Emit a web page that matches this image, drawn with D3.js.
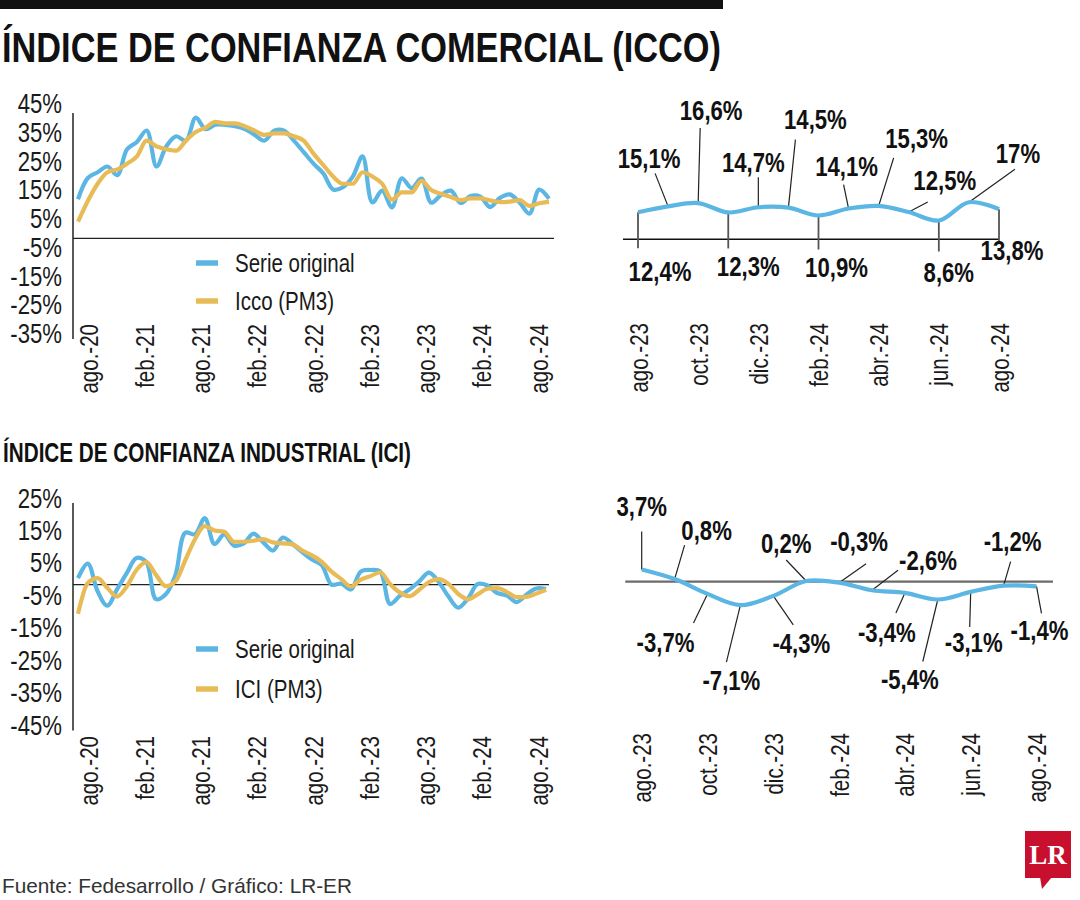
<!DOCTYPE html>
<html><head><meta charset="utf-8">
<script src="https://cdn.jsdelivr.net/npm/d3@7"></script>
<style>
html,body{margin:0;padding:0;background:#fff;}
svg{display:block;}
</style></head><body>
<svg id="chart" width="1080" height="900"></svg>
<script>
// ---------------- DATA ----------------
const longTickLabels = ["ago.-20","feb.-21","ago.-21","feb.-22","ago.-22","feb.-23","ago.-23","feb.-24","ago.-24"];
const recentTickLabels = ["ago.-23","oct.-23","dic.-23","feb.-24","abr.-24","jun.-24","ago.-24"];
const yTicksIcco = [45,35,25,15,5,-5,-15,-25,-35];
const yTicksIci = [25,15,5,-5,-15,-25,-35,-45];

// ICCO monthly, ago-20 .. ago-24 (%)
const iccoOriginal = [13.6,21,23,25,22,31,33.5,37.5,25,32,35.5,34,42,38,39.5,39.5,39,38,36,34,37.5,37.5,34,30,26,22.6,17,17.8,21.5,28.5,12.5,16.6,10.8,20.9,17.5,20.8,
  12.4,15.1,16.6,12.3,14.7,14.5,10.9,14.1,15.3,12.5,8.6,17,13.8];
const iccoPM3 = [5.8,13,19,23,24,26,28.5,34,32,31,30.5,34,37,38.5,40.5,40,40,39,37.5,36,36.5,36.5,35.5,34,29.5,25.5,21.5,19,19,23,21.5,19,13.5,16,16,20,
  16.8,15.5,14.4,13.3,13.9,13.9,13.2,12.6,12.8,13.3,11.3,12.2,12.8];
// ICI monthly, ago-20 .. ago-24 (%)
const iciOriginal = [2,6.5,-2,-6.5,-1.5,3.5,8.2,7,-4.5,-3,3,16,15.5,20.5,12.5,15.5,12,12.7,15.7,13,10.5,14.5,12.5,10,7.7,6,0,0.3,-1.5,4,4.5,4,-6,-3.5,-1.5,1,
  3.7,0.8,-3.7,-7.1,-4.3,0.2,-0.3,-2.6,-3.4,-5.4,-3.1,-1.2,-1.4];
const iciPM3 = [-9,0.5,2,-1,-3.7,-0.6,4.5,6.9,3,-0.5,1,7.5,14,18,16.7,16.3,13.2,13.2,13.5,14,13,12.7,12.4,10.5,9,7,4,1.7,-0.6,1.5,2.6,3.8,0.2,-2.4,-3.6,-1.6,
  0.8,1.7,0.2,-2.9,-4.5,-3,-1.3,-1.1,-2.3,-3.9,-3.8,-2.8,-1.6];
// last 13 months (ago-23 .. ago-24)
const iccoRecent = [12.4,15.1,16.6,12.3,14.7,14.5,10.9,14.1,15.3,12.5,8.6,17,13.8];
const iciRecent = [3.7,0.8,-3.7,-7.1,-4.3,0.2,-0.3,-2.6,-3.4,-5.4,-3.1,-1.2,-1.4];

// ---------------- LAYOUT (annotation offsets, px) ----------------
const annotIcco = [
  {lx:22,ly:59,ex:0,ey:36},{lx:-19,ly:-48,ex:-13,ey:-33},{lx:13,ly:-93,ex:2,ey:-75},
  {lx:20,ly:54,ex:0,ey:36},{lx:-5,ly:-45,ex:0,ey:-30},{lx:27,ly:-88,ex:7,ey:-68},
  {lx:18,ly:52,ex:0,ey:34},{lx:-2,ly:-42,ex:-5,ey:-24},{lx:38,ly:-68,ex:15,ey:-48},
  {lx:36,ly:-32,ex:19,ey:-10},{lx:10,ly:52,ex:0,ey:31},{lx:49,ly:-49,ex:46,ey:-33},
  {lx:13,ly:41,ex:0,ey:32}];
const annotIci = [
  {lx:0,ly:-63,ex:0,ey:-38},{lx:32,ly:-49,ex:10,ey:-34},{lx:-42,ly:48,ex:-14,ey:29},
  {lx:-9,ly:75,ex:-14,ey:57},{lx:28,ly:47,ex:20,ey:29},{lx:-20,ly:-38,ex:-20,ey:-21},
  {lx:20,ly:-41,ex:27,ey:-19},{lx:56,ly:-30,ex:26,ey:-20},{lx:-18,ly:39,ex:-9,ey:20},
  {lx:-28,ly:80,ex:-15,ey:62},{lx:3,ly:50,ex:-1,ey:35},{lx:9,ly:-44,ex:7,ey:-24},
  {lx:3,ly:44,ex:5,ey:27}];

const INK = "#1a1a1a", BLUE = "#5cb6e3", GOLD = "#e8bb57";
const FONT = "'Liberation Sans Narrow','Arial Narrow','Liberation Sans',sans-serif";
const svg = d3.select("#chart").attr("font-family", FONT);

// header
svg.append("rect").attr("x",0).attr("y",0).attr("width",723).attr("height",9).attr("fill","#111");
function title(txt, x, y, size, len){
  svg.append("text").attr("x",x).attr("y",y).attr("font-size",size).attr("font-weight","bold")
    .attr("fill","#111").attr("textLength",len).attr("lengthAdjust","spacingAndGlyphs")
    .attr("class","fixed").text(txt);
}
title("ÍNDICE DE CONFIANZA COMERCIAL (ICCO)", 2, 62, 42, 719);
title("ÍNDICE DE CONFIANZA INDUSTRIAL (ICI)", 3, 462, 27, 408);

const fmt = v => (Number.isInteger(v) ? String(v) : v.toFixed(1)).replace(".", ",") + "%";

// -------- long panels --------
function longPanel(o){
  const g = svg.append("g");
  const x = d3.scaleLinear().domain([0, o.original.length-1]).range(o.xRange);
  const xl = d3.scaleLinear().domain([0, o.original.length-1]).range([88, 538]);
  const y = d3.scaleLinear().domain(o.yDomain).range(o.yRange);

  const ya = g.append("g").attr("transform", `translate(73,-5)`)
    .call(d3.axisLeft(y).tickValues(o.yTicks).tickFormat(d => d + "%").tickSize(0).tickPadding(11));
  ya.select(".domain").remove();
  ya.selectAll("text").attr("font-size", 27).attr("fill", INK).attr("font-family", FONT);
  g.append("line").attr("x1",73).attr("x2",73).attr("y1",o.axisTop).attr("y2",y(o.yDomain[0]))
    .attr("stroke","#222").attr("stroke-width",1.5);
  g.append("line").attr("x1",73).attr("x2",o.zeroEnd).attr("y1",y(0)).attr("y2",y(0))
    .attr("stroke","#222").attr("stroke-width",1.3);

  const xa = g.append("g").attr("transform", `translate(0,${o.labelTop})`)
    .call(d3.axisBottom(xl).tickValues(o.tickLabels.map((d,i)=>i*6)).tickFormat(i => o.tickLabels[i/6]).tickSize(0));
  xa.select(".domain").remove();
  xa.selectAll("text").attr("font-size", 25).attr("fill", INK).attr("font-family", FONT)
    .attr("text-anchor","end").attr("transform","rotate(-90)").attr("x",0).attr("y",0).attr("dy","0.36em");

  const lineO = d3.line().x((d,i)=>x(i)).y(d=>y(d)).curve(d3.curveCatmullRom.alpha(0.5));
  const lineP = d3.line().x((d,i)=>x(i)).y(d=>y(d)).curve(d3.curveMonotoneX);
  g.append("path").datum(o.original).attr("d",lineO).attr("fill","none").attr("stroke",BLUE)
    .attr("stroke-width",4.2).attr("stroke-linejoin","round");
  g.append("path").datum(o.pm3).attr("d",lineP).attr("fill","none").attr("stroke",GOLD)
    .attr("stroke-width",4.2).attr("stroke-linejoin","round");

  const items = [{c:BLUE, t:"Serie original", y:o.legY[0]}, {c:GOLD, t:o.pmName, y:o.legY[1]}];
  items.forEach(it => {
    g.append("line").attr("x1",196).attr("x2",218).attr("y1",it.y).attr("y2",it.y)
      .attr("stroke",it.c).attr("stroke-width",5.5);
    g.append("text").attr("x",235).attr("y",it.y+9).attr("font-size",25).attr("fill",INK).text(it.t);
  });
}

longPanel({original:iccoOriginal, pm3:iccoPM3, yDomain:[-35,45], yRange:[339,109], yTicks:yTicksIcco,
  xRange:[78,549], axisTop:113, zeroEnd:554, labelTop:324, tickLabels:longTickLabels,
  legY:[263,301], pmName:"Icco (PM3)"});
longPanel({original:iciOriginal, pm3:iciPM3, yDomain:[-45,25], yRange:[730.5,503.5], yTicks:yTicksIci,
  xRange:[78,546], axisTop:503, zeroEnd:549, labelTop:736, tickLabels:longTickLabels,
  legY:[649,689], pmName:"ICI (PM3)"});

// -------- recent panels --------
function recentPanel(o){
  const g = svg.append("g");
  const x = d3.scaleLinear().domain([0, o.values.length-1]).range(o.xRange);
  const y = d3.scaleLinear().domain(o.yDomain).range(o.yRange);
  g.append("line").attr("x1",x(-0.5)).attr("x2",x(o.zeroEndIdx)).attr("y1",y(0)).attr("y2",y(0))
    .attr("stroke",o.zeroColor).attr("stroke-width",o.zeroWidth);
  o.values.forEach((v,i) => {
    const a = o.annot[i], px = x(i), py = y(v);
    const drop = o.dropGray && a.ex === 0 && a.ey > 0;
    g.append("line").attr("x1",px).attr("y1",py).attr("x2",px+a.ex).attr("y2",py+a.ey)
      .attr("stroke", drop ? "#555" : "#222").attr("stroke-width", drop ? 1.8 : 1.2);
  });
  const line = d3.line().x((d,i)=>x(i)).y(d=>y(d)).curve(d3.curveCatmullRom.alpha(0.5));
  g.append("path").datum(o.values).attr("d",line).attr("fill","none").attr("stroke",BLUE)
    .attr("stroke-width",4.2).attr("stroke-linecap","butt");
  o.values.forEach((v,i) => {
    const a = o.annot[i];
    g.append("text").attr("x",x(i)+a.lx).attr("y",y(v)+a.ly).attr("dy","0.36em")
      .attr("text-anchor","middle").attr("font-size",27).attr("font-weight","bold").attr("fill","#111")
      .text(fmt(v));
  });
  const xa = g.append("g").attr("transform", `translate(0,${o.labelTop})`)
    .call(d3.axisBottom(x).tickValues(o.tickLabels.map((d,i)=>i*2)).tickFormat(i => o.tickLabels[i/2]).tickSize(0));
  xa.select(".domain").remove();
  xa.selectAll("text").attr("font-size", 25).attr("fill", INK).attr("font-family", FONT)
    .attr("text-anchor","end").attr("transform","rotate(-90)").attr("x",0).attr("y",0).attr("dy","0.36em");
}

recentPanel({values:iccoRecent, annot:annotIcco, xRange:[638,999], yDomain:[0,17], yRange:[239.3,202.2],
  zeroEndIdx:12, zeroColor:"#111", zeroWidth:1.5, dropGray:true, labelTop:323, tickLabels:recentTickLabels});
recentPanel({values:iciRecent, annot:annotIci, xRange:[641.7,1036.5], yDomain:[-7.1,3.7], yRange:[605.1,569.5],
  zeroEndIdx:12.5, zeroColor:"#6b6b6b", zeroWidth:2.2, dropGray:false, labelTop:733, tickLabels:recentTickLabels});

// footer
svg.append("text").attr("x",2).attr("y",893).attr("font-size",21).attr("fill","#333")
  .attr("textLength",350).attr("lengthAdjust","spacingAndGlyphs").attr("class","fixed")
  .text("Fuente: Fedesarrollo / Gráfico: LR-ER");

// logo
const logo = svg.append("g");
logo.append("rect").attr("x",1025).attr("y",831).attr("width",46).attr("height",47).attr("fill","#c8102e");
logo.append("path").attr("d","M1040,877 L1052,877 L1042,889 Z").attr("fill","#c8102e");
logo.append("text").attr("x",1048).attr("y",864).attr("text-anchor","middle").attr("font-size",27)
  .attr("font-weight","bold").attr("font-family","'Liberation Serif',serif").attr("fill","#fff")
  .attr("class","fixed").text("LR");

(function(){
  const c = document.createElement("canvas").getContext("2d");
  const s = "abcdefghijklmnopqrstuvwxyz0123456789%";
  c.font = "40px monospace"; const w1 = c.measureText(s).width;
  c.font = "40px 'Liberation Sans Narrow', monospace"; const w2 = c.measureText(s).width;
  if (w1 === w2) {
    svg.selectAll("text:not(.fixed)").each(function(){
      const L = this.getComputedTextLength();
      d3.select(this).attr("textLength", L*0.82).attr("lengthAdjust","spacingAndGlyphs");
    });
  }
})();
</script>
</body></html>
